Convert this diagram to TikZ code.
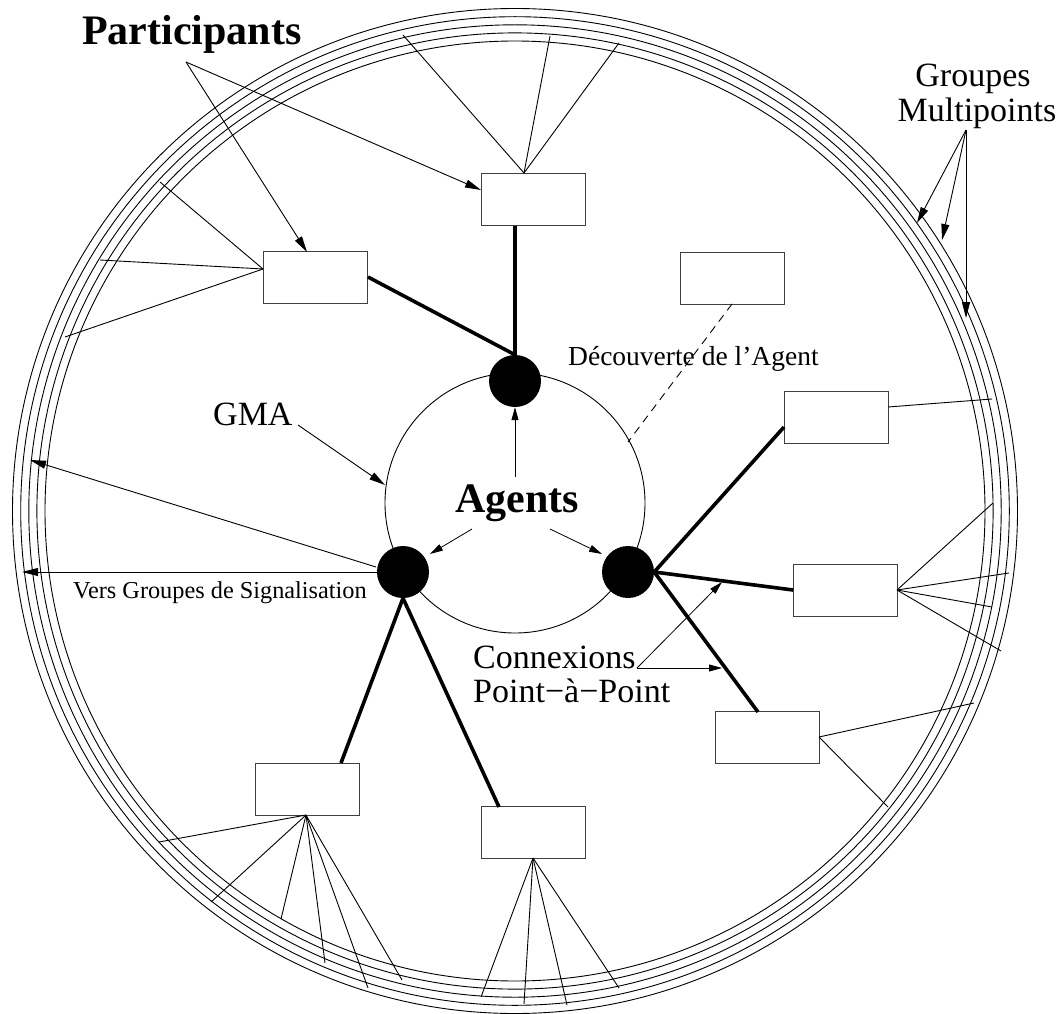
\documentclass[tikz,border=0pt]{standalone}
\usepackage{fontspec}
\setmainfont{Liberation Serif}
\usetikzlibrary{arrows.meta}
\begin{document}
\begin{tikzpicture}[x=1pt,y=-1pt,
  ringline/.style={line width=0.9pt},
  box/.style={draw=black!75, line width=1pt, fill=white, minimum width=104pt, minimum height=52pt, inner sep=0pt},
  dot/.style={circle, fill=black, minimum size=52pt, inner sep=0pt},
  link/.style={line width=3.6pt},
  fan/.style={line width=0.9pt},
  arr/.style={line width=0.9pt, -{Triangle[length=16pt,width=8pt]}},
  sarr/.style={line width=0.8pt, -{Triangle[length=13pt,width=7pt]}},
  big/.style={inner sep=0pt, anchor=base west, font=\fontsize{34}{34}\selectfont},
  bigb/.style={inner sep=0pt, anchor=base west, font=\fontsize{42}{42}\selectfont\bfseries},
  small/.style={inner sep=0pt, anchor=base west, font=\fontsize{27.5}{27.5}\selectfont}
]
\useasboundingbox (0,0) rectangle (1063,1014);
% rings
\coordinate (rc) at (515,511);
\foreach \r in {502.5,494.3,486.2,478.1,470.0}
  \draw[ringline] (rc) circle[radius=\r pt];
% GMA circle
\coordinate (gc) at (515,503);
\draw[line width=0.9pt] (gc) circle[radius=130pt];

% boxes
\node[box] (bA) at (315.5,277.5) {};
\node[box] (bB) at (533,199.5) {};
\node[box] (bC) at (732,278) {};
\node[box] (bD) at (836,417) {};
\node[box] (bE) at (845,590) {};
\node[box] (bF) at (767,737.5) {};
\node[box] (bG) at (533,832.5) {};
\node[box] (bH) at (307,789) {};

% agent dots
\node[dot] (T) at (515,381) {};
\node[dot] (L) at (403,572) {};
\node[dot] (R) at (628,572) {};

% box anchor points
\coordinate (aR) at (368,277);
\coordinate (bBot) at (515,226);
\coordinate (dL) at (784,427);
\coordinate (eL) at (793,590);
\coordinate (fT) at (758,712);
\coordinate (hT) at (341,763);
\coordinate (gT) at (499,807);

% thick point-to-point links
\draw[link] (aR) -- (T.north);
\draw[link] (bBot) -- (T.north);
\draw[link] (R.east) -- (dL);
\draw[link] (R.east) -- (eL);
\draw[link] (R.east) -- (fT);
\draw[link] (L.south) -- (hT);
\draw[link] (L.south) -- (gT);

% fan vertices
\coordinate (vA) at (263,269);
\coordinate (vB) at (524,173);
\coordinate (vD) at (888,407);
\coordinate (vE) at (897,590);
\coordinate (vF) at (819,737);
\coordinate (vG) at (533,858);
\coordinate (vH) at (306,815);

% fan end points on rings
\coordinate (a1) at (160,182);
\coordinate (a2) at (100,260);
\coordinate (a3) at (65,337);
\coordinate (b1) at (403,35);
\coordinate (b2) at (550,36);
\coordinate (b3) at (619,43);
\coordinate (d1) at (992,399);
\coordinate (e1) at (993,503);
\coordinate (e2) at (1009,573);
\coordinate (e3) at (992,607);
\coordinate (e4) at (1001,651);
\coordinate (f1) at (974,703);
\coordinate (f2) at (888,807);
\coordinate (g1) at (481,997);
\coordinate (g2) at (524,1004);
\coordinate (g3) at (567,1005);
\coordinate (g4) at (619,988);
\coordinate (h1) at (159,842);
\coordinate (h2) at (211,902);
\coordinate (h3) at (281,919);
\coordinate (h4) at (325,963);
\coordinate (h5) at (368,988);
\coordinate (h6) at (402,980);

\foreach \p in {a1,a2,a3} \draw[fan] (vA) -- (\p);
\foreach \p in {b1,b2,b3} \draw[fan] (vB) -- (\p);
\draw[fan] (vD) -- (d1);
\foreach \p in {e1,e2,e3,e4} \draw[fan] (vE) -- (\p);
\foreach \p in {f1,f2} \draw[fan] (vF) -- (\p);
\foreach \p in {g1,g2,g3,g4} \draw[fan] (vG) -- (\p);
\foreach \p in {h1,h2,h3,h4,h5,h6} \draw[fan] (vH) -- (\p);

% dashed discovery line
\coordinate (cB) at (732,304);
\coordinate (gmaP) at (628,442);
\draw[line width=0.9pt, dashed, dash pattern=on 8pt off 6pt] (cB) -- (gmaP);

% labels
\node[bigb] (parts) at (82,45) {Participants};
\node[bigb] (agents) at (455,512) {Agents};
\node[big] (gma) at (213,425) {GMA};
\node[big] (conn) at (473,668) {Connexions};
\node[big] (p2p) at (473,702) {Point−à−Point};
\node[big, anchor=base] (grp) at (973,87) {Groupes};
\node[big, anchor=base] (mult) at (977,122) {Multipoints};
\node[small] (decouv) at (568,365) {Découverte de l’Agent};
\node[small, font=\fontsize{24.3}{24.3}\selectfont] (vers) at (73,598) {Vers Groupes de Signalisation};

% Participants arrows
\coordinate (p0) at (186,62);
\coordinate (aTop) at (307,252);
\coordinate (bLeft) at (481,190);
\draw[arr] (p0) -- (aTop);
\draw[arr] (p0) -- (bLeft);

% Groupes arrows
\coordinate (m0) at (966,130);
\coordinate (m1) at (917,223);
\coordinate (m2) at (942,240);
\coordinate (m3) at (966,318);
\draw[arr] (m0) -- (m1);
\draw[arr] (m0) -- (m2);
\draw[arr] (m0) -- (m3);

% GMA arrow
\coordinate (gma0) at (298,425);
\coordinate (gma1) at (385,485);
\draw[arr] (gma0) -- (gma1);

% Agents arrows
\coordinate (ag0) at (515,477);
\coordinate (ag1) at (472,529);
\coordinate (ag2) at (550,529);
\coordinate (agL) at (430,554);
\coordinate (agR) at (602,554);
\draw[sarr] (ag0) -- (T.south);
\draw[sarr] (ag1) -- (agL);
\draw[sarr] (ag2) -- (agR);

% Vers arrows
\coordinate (v1) at (22,572);
\coordinate (v2) at (30,460);
\coordinate (lw2) at (376,567);
\draw[arr] (L.west) -- (v1);
\draw[arr] (lw2) -- (v2);

% Connexions arrows
\coordinate (c0) at (637,668);
\coordinate (c1) at (722,582);
\coordinate (c2) at (722,668);
\draw[sarr] (c0) -- (c1);
\draw[sarr] (c0) -- (c2);
\end{tikzpicture}
\end{document}
